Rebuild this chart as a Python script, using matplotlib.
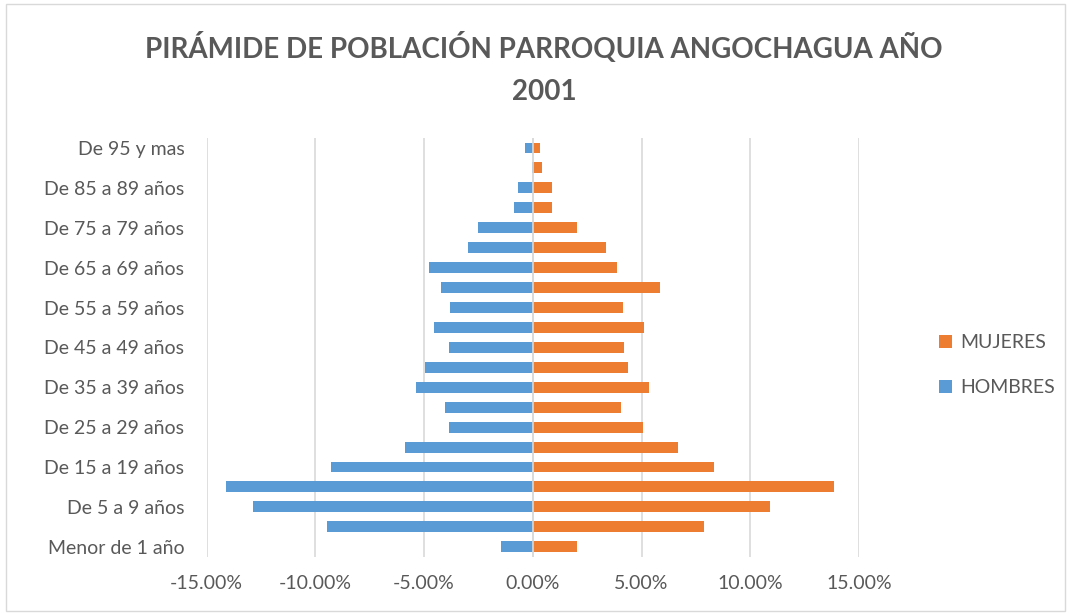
import matplotlib
matplotlib.use("Agg")
import matplotlib.pyplot as plt
from matplotlib.patches import Rectangle
from matplotlib.ticker import FuncFormatter

plt.rcParams["font.family"] = ["Lato", "DejaVu Sans"]

# Grupos de edad (de abajo hacia arriba)
grupos = [
    "Menor de 1 año", "De 1 a 4 años", "De 5 a 9 años", "De 10 a 14 años",
    "De 15 a 19 años", "De 20 a 24 años", "De 25 a 29 años", "De 30 a 34 años",
    "De 35 a 39 años", "De 40 a 44 años", "De 45 a 49 años", "De 50 a 54 años",
    "De 55 a 59 años", "De 60 a 64 años", "De 65 a 69 años", "De 70 a 74 años",
    "De 75 a 79 años", "De 80 a 84 años", "De 85 a 89 años", "De 90 a 94 años",
    "De 95 y mas",
]

# Porcentajes (hombres negativos)
hombres = [-1.48, -9.45, -12.86, -14.09, -9.29, -5.88, -3.86, -4.04, -5.39, -4.98,
           -3.86, -4.53, -3.80, -4.24, -4.78, -3.00, -2.51, -0.87, -0.69, -0.05,
           -0.38]
mujeres = [2.05, 7.87, 10.92, 13.87, 8.32, 6.66, 5.08, 4.07, 5.36, 4.37,
           4.20, 5.13, 4.13, 5.83, 3.86, 3.37, 2.05, 0.90, 0.90, 0.43,
           0.35]

titulo = "PIRÁMIDE DE POBLACIÓN PARROQUIA ANGOCHAGUA AÑO\n2001"
xticks = [-15, -10, -5, 0, 5, 10, 15]

GRIS = "#595959"
AZUL = "#5B9BD5"
NARANJA = "#ED7D31"

fig = plt.figure(figsize=(10.71, 6.13), dpi=100)
ax = fig.add_axes([0.193, 0.0918, 0.609, 0.683])

y = list(range(len(grupos)))
ax.barh(y, mujeres, height=0.55, color=NARANJA, label="MUJERES", zorder=3)
ax.barh(y, hombres, height=0.55, color=AZUL, label="HOMBRES", zorder=3)

ax.set_xlim(-15, 15)
ax.set_ylim(-0.5, len(grupos) - 0.5)
ax.set_xticks(xticks)
ax.xaxis.set_major_formatter(FuncFormatter(lambda v, p: f"{v:.2f}%"))
ax.set_yticks(y[::2])
ax.set_yticklabels(grupos[::2])

ax.grid(axis="x", color="#d9d9d9", linewidth=1.2, zorder=0)
ax.axvline(0, color="#d9d9d9", linewidth=1.2, zorder=4)
for s in ax.spines.values():
    s.set_visible(False)
ax.tick_params(axis="both", length=0, labelsize=14, colors=GRIS)
ax.tick_params(axis="y", pad=16)
ax.tick_params(axis="x", pad=13)

fig.text(0.508, 0.888, titulo, ha="center", va="center", fontsize=20,
         fontweight="bold", color=GRIS, linespacing=1.75)

handles, labels = ax.get_legend_handles_labels()
leg = fig.legend(handles, labels, loc="center left", bbox_to_anchor=(0.86, 0.404),
                 frameon=False, fontsize=14, labelcolor=GRIS, handlelength=0.7,
                 handleheight=0.7, handletextpad=0.4, labelspacing=1.45)

fig.patches.append(Rectangle((0.006, 0.004), 0.988, 0.99, transform=fig.transFigure,
                             fill=False, edgecolor="#d9d9d9", linewidth=1))

fig.savefig("out.png", dpi=100)
